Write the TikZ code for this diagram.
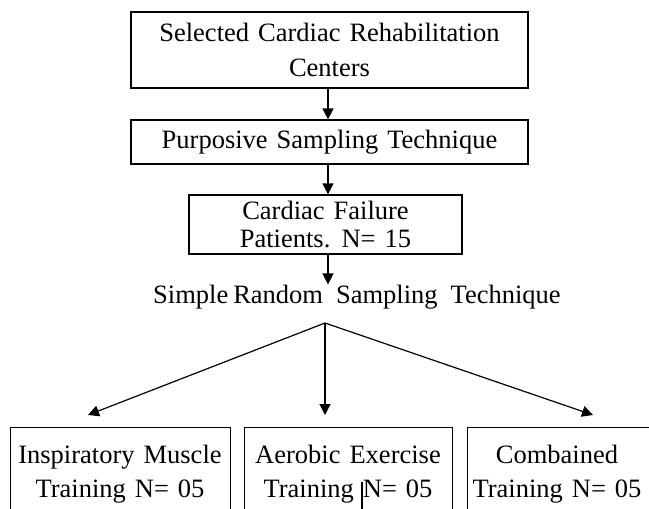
\documentclass[tikz,border=0pt]{standalone}
\usepackage{fontspec}
\setmainfont{Liberation Serif}
\usetikzlibrary{arrows.meta}
\newcommand{\fsz}[1]{\fontsize{26.5}{#1}\selectfont\spaceskip=9pt\relax}
\begin{document}
\begin{tikzpicture}[x=1pt,y=-1pt,
  box/.style={draw=black, line width=1.2pt, inner sep=0pt, align=center},
  txt/.style={inner sep=0pt, align=center, font=\fsz{34}},
  arr/.style={line width=1.2pt, -{Triangle[length=11pt,width=11pt]}}]
\useasboundingbox (0,0) rectangle (649,509);
% top chain
\node[box, minimum width=397pt, minimum height=76pt, font=\fsz{35}] (sel) at (329.5,50) {Selected Cardiac Rehabilitation\\Centers};
\node[box, minimum width=397pt, minimum height=44pt, font=\fsz{30}] (pur) at (329.5,142) {Purposive Sampling Technique};
\node[box, minimum width=273pt, minimum height=59pt, font=\fsz{28}] (cfp) at (325.5,224.5) {Cardiac Failure\\Patients. N= 15};
\node[txt, anchor=base west] (srs) at (153,303) {Simple\hspace{5pt}Random\hspace{13pt}Sampling\hspace{13pt}Technique};
\draw[arr] (sel.south -| 328,0) -- (pur.north -| 328,0);
\draw[arr] (pur.south -| 328,0) -- (cfp.north -| 328,0);
\draw[arr] (cfp.south -| 328,0) -- (srs.north -| 328,0);
% fan
\coordinate (apex) at (325,323);
\coordinate (tA) at (88,415);
\coordinate (tB) at (325,415);
\coordinate (tC) at (593,415);
\draw[arr] (apex) -- (tA);
\draw[arr] (apex) -- (tB);
\draw[arr] (apex) -- (tC);
% bottom boxes
\node[box, anchor=north west, minimum width=220pt, minimum height=110pt] (imt) at (10,427) {};
\node[box, anchor=north west, minimum width=208pt, minimum height=110pt] (aet) at (244,427) {};
\node[box, anchor=north west, minimum width=200pt, minimum height=110pt] (cot) at (467,427) {};
\node[txt, anchor=north] (imtT) at (120,445) {Inspiratory Muscle\\Training N= 05};
\node[txt, anchor=north] (aetT) at (348,445) {Aerobic Exercise\\Training N= 05};
\node[txt, anchor=north] (cotT) at (557,445) {Combained\\Training N= 05};
% text cursor mark
\draw[line width=2.5pt] (362,482) -- (362,512);
\end{tikzpicture}
\end{document}
